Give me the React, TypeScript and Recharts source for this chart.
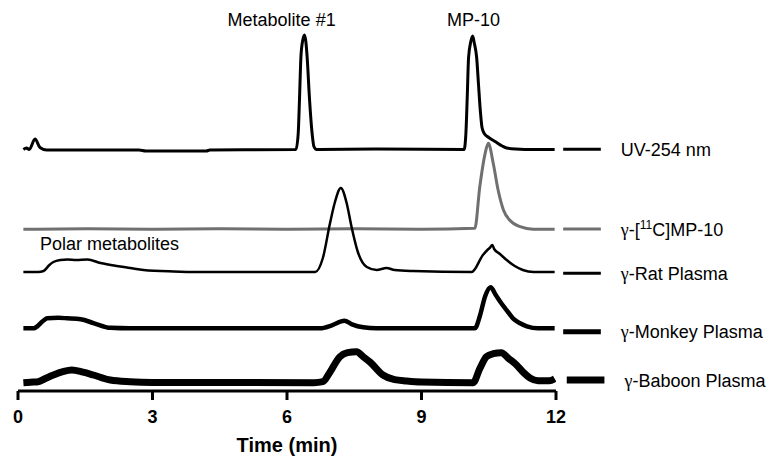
import React from "react";
import {
  LineChart,
  Line,
  XAxis,
  YAxis,
  ReferenceLine,
  ReferenceDot,
} from "recharts";

const SANS = '"Liberation Sans", Arial, sans-serif';
const SERIF = '"Liberation Serif", "Times New Roman", serif';

const timeTicks = [0, 3, 6, 9, 12];

// stacked chromatograms: each trace sits on its own baseline
const traceKeys = ["uv", "mp10", "rat", "monkey", "baboon"];
const traceBaselines = [241.5, 161.7, 119, 62.7, 8.3];
const legendLevels = [241.7, 162, 117.7, 59.3, 11];

const uvTime = [0.12, 0.19, 0.25, 0.38, 0.49, 0.64, 2.7, 2.85, 4.2, 4.28, 6.2, 6.25, 6.28, 6.31, 6.35, 6.39, 6.42, 6.45, 6.5, 6.56, 6.6, 6.66, 8.0, 9.95, 9.99, 10.02, 10.05, 10.1, 10.14, 10.18, 10.23, 10.27, 10.31, 10.35, 10.4, 10.5, 10.64, 10.8, 10.9, 11.1, 11.5, 11.97];
const uvSignal = [0, 1.5, 0, 10.5, 2, -0.5, -0.5, -1.5, -1.5, -0.5, 0, 16, 52, 92, 109, 114.5, 108, 92, 52, 16, 3, 0, 0.5, 0, 16, 52, 92, 108, 113.5, 106, 92, 66, 40, 22, 16, 12, 8, 3.5, 1.5, 0.5, 0, 0];

const mp10Time = [0.12, 1.5, 3.0, 4.5, 6.0, 7.5, 9.0, 10.19, 10.3, 10.42, 10.49, 10.6, 10.71, 10.83, 10.97, 11.2, 11.49, 11.97];
const mp10Signal = [0, 0.5, 0, 0.5, 0, 0.5, 0, 1, 42.6, 76, 86, 66, 39, 19, 9, 2.6, 0, 0];

const ratTime = [0.12, 0.45, 0.57, 0.7, 0.79, 0.95, 1.1, 1.3, 1.55, 1.84, 2.2, 2.5, 2.8, 3.47, 4.0, 6.63, 6.8, 6.96, 7.07, 7.2, 7.33, 7.44, 7.58, 7.78, 8.0, 8.22, 8.4, 8.81, 10.12, 10.37, 10.47, 10.52, 10.58, 10.62, 10.75, 10.9, 11.08, 11.26, 11.5, 11.97];
const ratSignal = [0, 0, 1, 7, 10, 12, 12.5, 12, 12.5, 9, 6, 4, 2, 0.5, 0, 0, 14, 49, 70, 84, 69, 45, 20, 5, 2, 4, 2, 1, 0, 17, 22, 24, 27, 23, 18, 12, 6, 2, 0, 0];

const monkeyTime = [0.12, 0.35, 0.43, 0.55, 0.65, 0.9, 1.1, 1.4, 1.7, 2.06, 2.5, 6.74, 7.0, 7.28, 7.45, 7.7, 8.0, 10.19, 10.3, 10.42, 10.54, 10.66, 10.78, 10.9, 11.04, 11.2, 11.35, 11.6, 11.97];
const monkeySignal = [0, 0, 2, 7, 10, 10.5, 10, 9, 5, 0.5, 0, 0, 3, 7.6, 4, 1, 0, 0, 12, 32, 41, 33, 25, 18, 10, 5, 2, 0, 0];

const baboonTime = [0.12, 0.28, 0.45, 0.6, 0.79, 1.0, 1.2, 1.45, 1.68, 2.06, 2.5, 3.0, 6.6, 6.8, 6.95, 7.18, 7.35, 7.55, 7.7, 7.85, 8.14, 8.4, 8.67, 9.0, 10.15, 10.3, 10.45, 10.6, 10.78, 10.95, 11.12, 11.28, 11.42, 11.6, 11.85, 11.97];
const baboonSignal = [0, 0.5, 1, 4, 7.7, 11, 12.7, 10.5, 7.7, 2.7, 1, 0.3, 0, 1, 10, 26, 30, 31, 26, 20.7, 7.7, 3, 1.7, 0.7, 0, 14, 26, 29, 30, 24, 17.7, 10, 4.7, 2, 2, 4];

const traceTimes = [uvTime, mp10Time, ratTime, monkeyTime, baboonTime];
const traceSignals = [uvSignal, mp10Signal, ratSignal, monkeySignal, baboonSignal];

const traceColor = ["#000", "#707070", "#000", "#000", "#000"];
const traceWidth = [3, 3, 2.5, 4.5, 7];
const legendWidth = [3, 3, 3, 5, 7];

function buildRows(i: number) {
  const base = traceBaselines[i];
  return traceTimes[i].map((t, j) => ({ t, v: traceSignals[i][j] + base }));
}

function LegendText({ viewBox, idx }: any) {
  if (!viewBox) return null;
  const x = viewBox.x + viewBox.width + 20;
  const y = viewBox.y + 6.5;
  const common = { fontFamily: SANS, fontSize: 18, fill: "#000" };
  if (idx === 0) {
    return (
      <text x={x} y={y} {...common}>
        UV-254 nm
      </text>
    );
  }
  const rest = ["", "", "Rat Plasma", "Monkey Plasma", "Baboon Plasma"][idx];
  return (
    <text x={x} y={y} {...common}>
      <tspan fontFamily={SERIF}>γ</tspan>
      {idx === 1 ? (
        <>
          <tspan>-[</tspan>
          <tspan dy={-7} fontSize={12}>
            11
          </tspan>
          <tspan dy={7}>C]MP-10</tspan>
        </>
      ) : (
        <tspan>-{rest}</tspan>
      )}
    </text>
  );
}

function Annotation({ viewBox, text, anchor }: any) {
  if (!viewBox) return null;
  return (
    <text
      x={viewBox.x + viewBox.width / 2}
      y={viewBox.y + viewBox.height / 2}
      textAnchor={anchor}
      fontFamily={SANS}
      fontSize={18}
      fill="#000"
    >
      {text}
    </text>
  );
}

export default function App() {
  return (
    <div style={{ position: "absolute", left: 0, top: 0, background: "#fff" }}>
      <LineChart
        width={778}
        height={466}
        margin={{ top: 33, right: 222, bottom: 0, left: 18 }}
      >
        <XAxis
          dataKey="t"
          type="number"
          domain={[0, 12]}
          ticks={timeTicks}
          allowDataOverflow
          height={75}
          axisLine={{ stroke: "#000", strokeWidth: 3 }}
          tickLine={{ stroke: "#000", strokeWidth: 3 }}
          tickSize={9}
          tickMargin={10}
          tick={{ fill: "#000", fontSize: 18, fontWeight: "bold", fontFamily: SANS }}
          label={{
            value: "Time (min)",
            position: "insideBottom",
            offset: 14,
            fill: "#000",
            fontSize: 20,
            fontWeight: "bold",
            fontFamily: SANS,
          }}
        />
        <YAxis
          type="number"
          domain={[0, 358]}
          width={0}
          tick={false}
          tickLine={false}
          axisLine={{ stroke: "#000", strokeWidth: 3 }}
        />

        {traceKeys.map((k, i) => (
          <Line
            key={k}
            data={buildRows(i)}
            dataKey="v"
            type="monotone"
            stroke={traceColor[i]}
            strokeWidth={traceWidth[i]}
            strokeLinejoin="round"
            dot={false}
            activeDot={false}
            isAnimationActive={false}
          />
        ))}

        {traceKeys.map((k, i) => (
          <ReferenceLine
            key={"lg-" + k}
            segment={[
              { x: i === 4 ? 12.24 : 12.16, y: legendLevels[i] },
              { x: i === 4 ? 13.08 : 13.0, y: legendLevels[i] },
            ]}
            stroke={traceColor[i]}
            strokeWidth={legendWidth[i]}
            ifOverflow="visible"
            label={(p: any) => <LegendText {...p} idx={i} />}
          />
        ))}

        <ReferenceDot
          x={5.88}
          y={365}
          r={0}
          ifOverflow="visible"
          stroke="none"
          label={(p: any) => <Annotation {...p} text="Metabolite #1" anchor="middle" />}
        />
        <ReferenceDot
          x={10.16}
          y={365}
          r={0}
          ifOverflow="visible"
          stroke="none"
          label={(p: any) => <Annotation {...p} text="MP-10" anchor="middle" />}
        />
        <ReferenceDot
          x={0.49}
          y={141}
          r={0}
          ifOverflow="visible"
          stroke="none"
          label={(p: any) => <Annotation {...p} text="Polar metabolites" anchor="start" />}
        />
      </LineChart>
    </div>
  );
}
